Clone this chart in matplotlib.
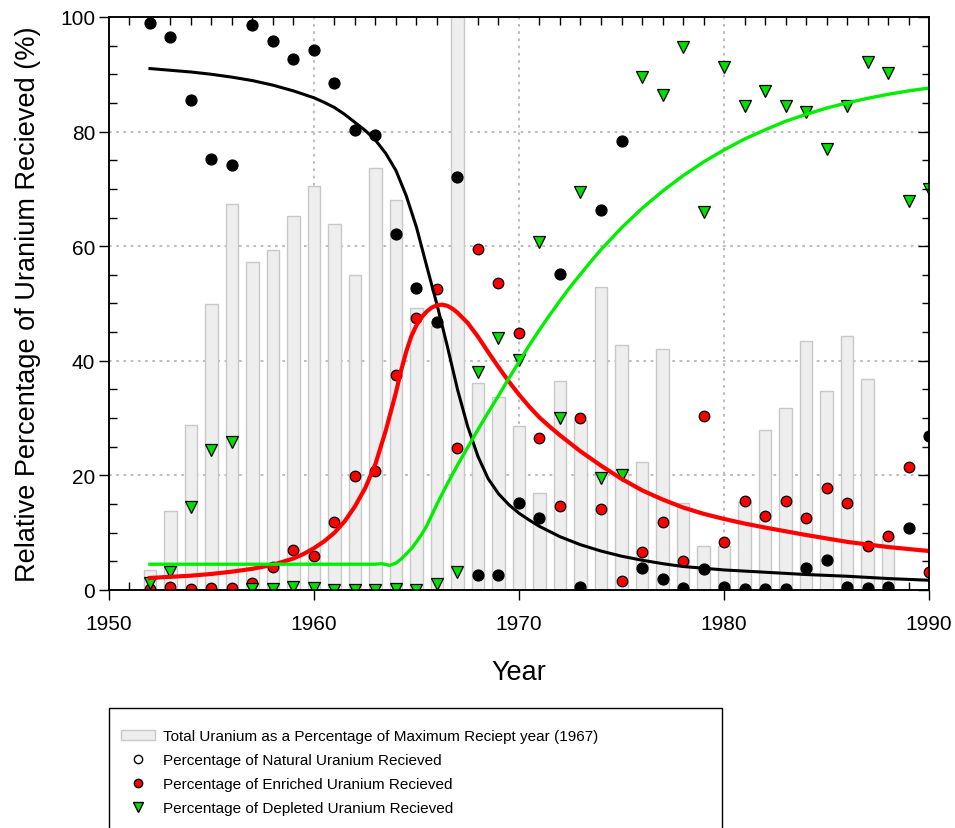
import numpy as np
import matplotlib.pyplot as plt
from matplotlib.patches import Patch, Rectangle
from matplotlib.lines import Line2D
from matplotlib.ticker import MultipleLocator

plt.rcParams['font.family'] = ['Liberation Sans', 'DejaVu Sans']

# yearly receipts (percentages)
years = list(range(1952, 1991))
total_pct = [3.5, 13.7, 28.8, 49.9, 67.4, 57.2, 59.3, 65.3, 70.5, 63.9,
             55.0, 73.6, 68.1, 49.3, 46.0, 100.0, 36.1, 33.6, 28.6, 17.0,
             36.4, 29.7, 52.8, 42.7, 22.3, 42.1, 15.1, 7.7, 7.7, 15.3,
             28.0, 31.8, 43.4, 34.8, 44.3, 36.8, 9.5, 0.0, 0.0]
natural_pct = [99.0, 96.5, 85.5, 75.2, 74.2, 98.6, 95.8, 92.7, 94.2, 88.5,
               80.3, 79.4, 62.1, 52.7, 46.8, 72.1, 2.6, 2.7, 15.2, 12.6,
               55.2, 0.5, 66.3, 78.3, 3.9, 1.9, 0.3, 3.7, 0.5, 0.1,
               0.1, 0.1, 3.8, 5.3, 0.5, 0.3, 0.5, 10.8, 26.9]
enriched_pct = [0.1, 0.6, 0.1, 0.35, 0.3, 1.3, 4.0, 6.9, 5.9, 11.8,
                19.9, 20.8, 37.6, 47.4, 52.5, 24.8, 59.5, 53.5, 44.8, 26.6,
                14.7, 30.1, 14.1, 1.6, 6.7, 11.8, 5.1, 30.4, 8.3, 15.5,
                12.9, 15.5, 12.6, 17.8, 15.2, 7.6, 9.4, 21.5, 3.2]
depleted_pct = [1.2, 3.1, 14.5, 24.5, 25.8, 0.2, 0.2, 0.6, 0.3, 0.0,
                0.0, 0.0, 0.2, 0.0, 1.0, 3.2, 38.1, 43.9, 40.2, 60.8,
                30.1, 69.5, 19.5, 20.1, 89.5, 86.3, 94.7, 66.0, 91.3, 84.5,
                87.1, 84.5, 83.5, 77.0, 84.4, 92.2, 90.2, 67.9, 70.0]

# fitted trend curves
nat_fit_x = [1952, 1953, 1954, 1955, 1956, 1957, 1958, 1959, 1960, 1960.5,
             1961, 1961.5, 1962, 1962.5, 1963, 1963.5, 1964, 1964.5, 1965,
             1965.5, 1966, 1966.5, 1967, 1967.5, 1968, 1968.5, 1969, 1969.5,
             1970, 1970.5, 1971, 1971.5, 1972, 1973, 1974, 1975, 1976, 1977,
             1978, 1979, 1980, 1982, 1984, 1986, 1988, 1990]
nat_fit_y = [91.0, 90.7, 90.4, 90.0, 89.5, 88.9, 88.1, 87.1, 85.9, 85.1,
             84.2, 83.0, 81.6, 80.2, 78.5, 76.2, 73.2, 68.8, 63.3,
             56.5, 49.8, 42.6, 35.0, 28.5, 23.3, 19.4, 16.8, 14.9,
             13.4, 12.2, 11.1, 10.2, 9.3, 7.9, 6.8, 5.9, 5.2, 4.6,
             4.1, 3.8, 3.5, 3.1, 2.7, 2.4, 2.0, 1.7]
enr_fit_x = [1952, 1953, 1954, 1955, 1956, 1957, 1958, 1959, 1959.5, 1960,
             1960.5, 1961, 1961.5, 1962, 1962.5, 1963, 1963.5, 1964, 1964.25,
             1964.5, 1964.75, 1965, 1965.25, 1965.5, 1965.75, 1966, 1966.25,
             1966.5, 1966.75, 1967, 1967.5, 1968, 1968.5, 1969, 1969.5, 1970,
             1970.5, 1971, 1971.5, 1972, 1973, 1974, 1975, 1976, 1977, 1978,
             1979, 1980, 1981, 1982, 1984, 1986, 1988, 1990]
enr_fit_y = [2.1, 2.3, 2.5, 2.8, 3.2, 3.7, 4.4, 5.5, 6.3, 7.3,
             8.5, 10.0, 12.0, 14.6, 17.8, 22.0, 27.8, 34.5, 38.3,
             41.6, 44.3, 46.2, 47.6, 48.6, 49.3, 49.7, 49.8,
             49.6, 49.1, 48.4, 46.6, 44.2, 41.5, 38.9, 36.4, 34.1,
             32.0, 30.1, 28.5, 27.0, 24.2, 21.7, 19.4, 17.4, 15.8, 14.4,
             13.3, 12.4, 11.6, 10.9, 9.6, 8.4, 7.5, 6.8]
dep_fit_x = [1952, 1963, 1963.3, 1963.7, 1964, 1964.25, 1964.5, 1964.75,
             1965, 1965.25, 1965.5, 1965.75, 1966, 1966.5, 1967, 1967.5, 1968,
             1968.5, 1969, 1969.5, 1970, 1970.5, 1971, 1971.5, 1972, 1972.5,
             1973, 1973.5, 1974, 1975, 1976, 1977, 1978, 1979, 1980, 1981,
             1982, 1983, 1984, 1985, 1986, 1987, 1988, 1989, 1990]
dep_fit_y = [4.5, 4.5, 4.6, 4.3, 4.7, 5.4, 6.3, 7.2,
             8.4, 9.7, 11.2, 13.1, 15.0, 18.5, 21.8, 24.9, 28.0,
             31.0, 33.9, 36.9, 39.8, 42.7, 45.4, 48.0, 50.5, 52.9,
             55.1, 57.3, 59.4, 63.2, 66.6, 69.6, 72.3, 74.7, 76.8, 78.7,
             80.3, 81.8, 83.0, 84.1, 85.0, 85.8, 86.5, 87.1, 87.6]

green = '#00e000'

fig = plt.figure(figsize=(9.55, 8.29), dpi=100)
ax = fig.add_axes([0.1141, 0.2871, 0.8587, 0.6912])

ax.bar(years, total_pct, width=0.62, color='#eeeeee', edgecolor='#c8c8c8',
       linewidth=1.0, zorder=1)

ax.plot(years, natural_pct, 'o', color='black', ms=7.8, mec='black', zorder=3)
ax.plot(years, enriched_pct, 'o', color='red', ms=7.6, mec='black', mew=0.9, zorder=3)
ax.plot(years, depleted_pct, 'v', color=green, ms=8.6, mec='black', mew=0.9, zorder=3)

ax.plot(nat_fit_x, nat_fit_y, color='black', lw=2.2, zorder=4)
ax.plot(enr_fit_x, enr_fit_y, color='red', lw=3.0, zorder=4)
ax.plot(dep_fit_x, dep_fit_y, color='#00ee00', lw=2.4, zorder=4)

ax.set_xlim(1950, 1990)
ax.set_ylim(0, 100)
ax.xaxis.set_major_locator(MultipleLocator(10))
ax.xaxis.set_minor_locator(MultipleLocator(1))
ax.yaxis.set_major_locator(MultipleLocator(20))
ax.yaxis.set_minor_locator(MultipleLocator(5))
ax.grid(which='major', color='#b8b8b8', linestyle=(0, (1.5, 2.5)), lw=1.3, zorder=0)
ax.set_axisbelow(True)

ax.tick_params(which='major', direction='out', length=7, width=1.0,
               labelsize=15, top=False, right=False)
ax.tick_params(axis='x', which='major', pad=10)
ax.tick_params(axis='y', which='major', pad=3)
ax.tick_params(which='minor', direction='in', length=6, width=1.0,
               top=True, right=False)
for s in ax.spines.values():
    s.set_linewidth(1.1)

# inward ticks on the right side
ax2 = ax.twinx()
ax2.set_ylim(0, 100)
ax2.yaxis.set_major_locator(MultipleLocator(20))
ax2.yaxis.set_minor_locator(MultipleLocator(5))
ax2.tick_params(which='major', direction='in', length=8, width=1.0, labelright=False)
ax2.tick_params(which='minor', direction='in', length=5, width=1.0, labelright=False)
for s in ax2.spines.values():
    s.set_linewidth(1.1)

ax.set_xlabel('Year', fontsize=19.5, labelpad=19)
ax.set_ylabel('Relative Percentage of Uranium Recieved (%)', fontsize=19.5, labelpad=14)

handles = [
    Patch(facecolor='#eeeeee', edgecolor='#c8c8c8'),
    Line2D([], [], ls='none', marker='o', mfc='white', mec='black', ms=6),
    Line2D([], [], ls='none', marker='o', mfc='red', mec='black', ms=6),
    Line2D([], [], ls='none', marker='v', mfc=green, mec='black', ms=6.5),
]
labels = ['Total Uranium as a Percentage of Maximum Reciept year (1967)',
          'Percentage of Natural Uranium Recieved',
          'Percentage of Enriched Uranium Recieved',
          'Percentage of Depleted Uranium Recieved']
fig.legend(handles, labels, loc='upper left',
           bbox_to_anchor=(106 / 955, 1 - 715 / 829),
           fontsize=11, frameon=False, borderpad=1.0,
           labelspacing=0.65, handlelength=2.2, handletextpad=0.55,
           borderaxespad=0.0)
# legend box runs off the bottom edge of the figure
fig.add_artist(Rectangle((109 / 955, -0.05), 613 / 955, 0.05 + 1 - 709 / 829,
                         transform=fig.transFigure, fill=False,
                         edgecolor='black', lw=1.0))

fig.savefig('out.png', dpi=100)
